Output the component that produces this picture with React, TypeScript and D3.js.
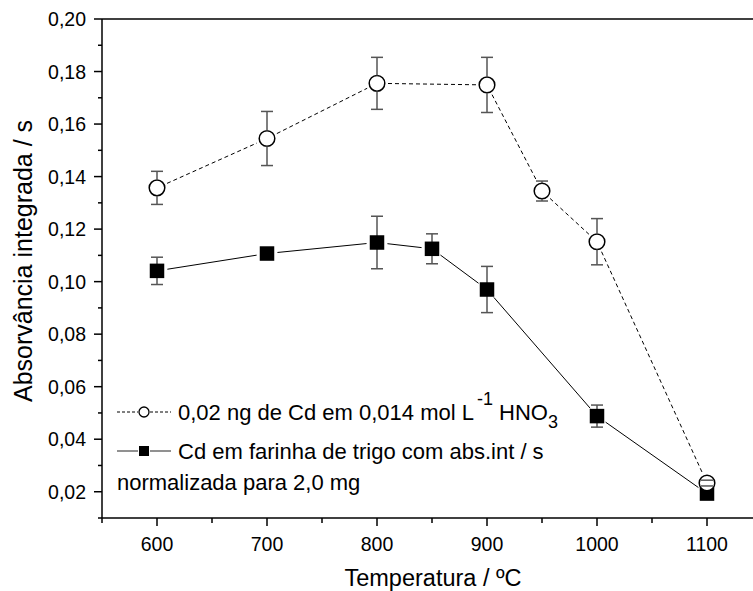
import React from "react";
import * as d3 from "d3";

const temps1 = [600, 700, 800, 900, 950, 1000, 1100];
const vals1 = [0.1357, 0.1545, 0.1755, 0.1749, 0.1345, 0.1152, 0.0233];
const errs1 = [0.0063, 0.0103, 0.0099, 0.0105, 0.0038, 0.0088, 0.0011];

const temps2 = [600, 700, 800, 850, 900, 1000, 1100];
const vals2 = [0.1041, 0.1107, 0.1149, 0.1125, 0.0970, 0.0488, 0.0193];
const errs2 = [0.0052, 0.0015, 0.0100, 0.0057, 0.0088, 0.0042, 0.0010];

const xTicks = [600, 700, 800, 900, 1000, 1100];
const xMinor = [550, 650, 750, 850, 950, 1050, 1150];
const yTicks = [0.02, 0.04, 0.06, 0.08, 0.1, 0.12, 0.14, 0.16, 0.18, 0.2];
const yMinor = [0.01, 0.03, 0.05, 0.07, 0.09, 0.11, 0.13, 0.15, 0.17, 0.19];

const W = 753, H = 591;
const L = 102, R = 762, T = 19, B = 518;
const FONT = "Liberation Sans, Arial, sans-serif";

function segments(xs: number[], ys: number[], gap: number) {
  const out: { x1: number; y1: number; x2: number; y2: number }[] = [];
  for (let i = 0; i < xs.length - 1; i++) {
    const dx = xs[i + 1] - xs[i], dy = ys[i + 1] - ys[i];
    const len = Math.hypot(dx, dy);
    if (len <= 2 * gap) continue;
    const ux = dx / len, uy = dy / len;
    out.push({ x1: xs[i] + ux * gap, y1: ys[i] + uy * gap, x2: xs[i + 1] - ux * gap, y2: ys[i + 1] - uy * gap });
  }
  return out;
}

export default function App() {
  const x = d3.scaleLinear().domain([550, 1150]).range([L, R]);
  const y = d3.scaleLinear().domain([0.01, 0.2]).range([B, T]);
  const fmt = (v: number) => v.toFixed(2).replace(".", ",");

  const px1 = temps1.map((t) => x(t)), py1 = vals1.map((v) => y(v));
  const px2 = temps2.map((t) => x(t)), py2 = vals2.map((v) => y(v));
  const seg1 = segments(px1, py1, 11);
  const seg2 = segments(px2, py2, 10.5);
  const errColor = "#555";
  const cap = 6;
  const rC = 7.8;

  return (
    <svg width={W} height={H} style={{ position: "absolute", left: 0, top: 0, background: "#fff" }} fontFamily={FONT}>
      <rect x={0} y={0} width={W} height={H} fill="#fff" />
      {/* frame */}
      <line x1={L} y1={T} x2={R} y2={T} stroke="#000" strokeWidth={1.5} />
      <line x1={L} y1={T} x2={L} y2={B} stroke="#000" strokeWidth={1.5} />
      <line x1={L} y1={B} x2={R} y2={B} stroke="#000" strokeWidth={1.5} />
      <line x1={R} y1={T} x2={R} y2={B} stroke="#000" strokeWidth={1.5} />
      {/* y ticks */}
      {yTicks.map((v) => (
        <g key={"yt" + v}>
          <line x1={L - 8} x2={L} y1={y(v)} y2={y(v)} stroke="#000" strokeWidth={1.5} />
          <text x={L - 16} y={y(v)} dy="0.36em" textAnchor="end" fontSize={19.5}>{fmt(v)}</text>
        </g>
      ))}
      {yMinor.map((v) => (
        <line key={"ym" + v} x1={L - 4} x2={L} y1={y(v)} y2={y(v)} stroke="#000" strokeWidth={1.5} />
      ))}
      {/* x ticks */}
      {xTicks.map((v) => (
        <g key={"xt" + v}>
          <line x1={x(v)} x2={x(v)} y1={B} y2={B + 8} stroke="#000" strokeWidth={1.5} />
          <text x={x(v)} y={B + 33} textAnchor="middle" fontSize={19.5}>{v}</text>
        </g>
      ))}
      {xMinor.map((v) => (
        <line key={"xm" + v} x1={x(v)} x2={x(v)} y1={B} y2={B + 5} stroke="#000" strokeWidth={1.5} />
      ))}
      {/* axis titles */}
      <text x={433} y={586} textAnchor="middle" fontSize={23.5}>Temperatura / ºC</text>
      <text transform="translate(32,261) rotate(-90)" textAnchor="middle" fontSize={25}>Absorvância integrada / s</text>

      {/* series 2: solid squares */}
      {seg2.map((s, i) => (
        <line key={"s2" + i} {...s} stroke="#000" strokeWidth={1} />
      ))}
      {temps2.map((t, i) => (
        <g key={"e2" + i} stroke={errColor} strokeWidth={1.5}>
          <line x1={x(t)} x2={x(t)} y1={y(vals2[i] + errs2[i])} y2={y(vals2[i] - errs2[i])} />
          <line x1={x(t) - cap} x2={x(t) + cap} y1={y(vals2[i] + errs2[i])} y2={y(vals2[i] + errs2[i])} />
          <line x1={x(t) - cap} x2={x(t) + cap} y1={y(vals2[i] - errs2[i])} y2={y(vals2[i] - errs2[i])} />
        </g>
      ))}
      {temps2.map((t, i) => (
        <rect key={"m2" + i} x={x(t) - 7.25} y={y(vals2[i]) - 7.25} width={14.5} height={14.5} fill="#000" />
      ))}

      {/* series 1: dashed open circles */}
      {seg1.map((s, i) => (
        <line key={"s1" + i} {...s} stroke="#000" strokeWidth={1} strokeDasharray="4,3" />
      ))}
      {temps1.map((t, i) => (
        <circle key={"m1" + i} cx={x(t)} cy={y(vals1[i])} r={rC} fill="#fff" stroke="#000" strokeWidth={1.5} />
      ))}
      {temps1.map((t, i) => {
        const cx = x(t), cy = y(vals1[i]);
        const yt = y(vals1[i] + errs1[i]), yb = y(vals1[i] - errs1[i]);
        return (
          <g key={"e1" + i} stroke={errColor} strokeWidth={1.5}>
            {cy - yt > rC && <line x1={cx} x2={cx} y1={yt} y2={cy - rC} />}
            {yb - cy > rC && <line x1={cx} x2={cx} y1={cy + rC} y2={yb} />}
            <line x1={cx - cap} x2={cx + cap} y1={yt} y2={yt} />
            <line x1={cx - cap} x2={cx + cap} y1={yb} y2={yb} />
          </g>
        );
      })}

      {/* legend */}
      <line x1={117} x2={138} y1={412} y2={412} stroke="#000" strokeWidth={1} strokeDasharray="3,2" />
      <line x1={150} x2={171} y1={412} y2={412} stroke="#000" strokeWidth={1} strokeDasharray="3,2" />
      <circle cx={144} cy={412} r={5} fill="#fff" stroke="#000" strokeWidth={1.3} />
      <text x={178} y={420} fontSize={22}>
        0,02 ng de Cd em 0,014 mol L
        <tspan dx={3} dy={-15} fontSize={18}>-1</tspan>
        <tspan dy={15}> HNO</tspan>
        <tspan dy={8} fontSize={18}>3</tspan>
      </text>
      <line x1={117} x2={138} y1={451} y2={451} stroke="#555" strokeWidth={1.3} />
      <line x1={150} x2={171} y1={451} y2={451} stroke="#555" strokeWidth={1.3} />
      <rect x={139} y={446} width={10} height={10} fill="#000" />
      <text x={178} y={459} fontSize={22}>Cd em farinha de trigo com abs.int / s</text>
      <text x={117} y={490} fontSize={22}>normalizada para 2,0 mg</text>
    </svg>
  );
}
